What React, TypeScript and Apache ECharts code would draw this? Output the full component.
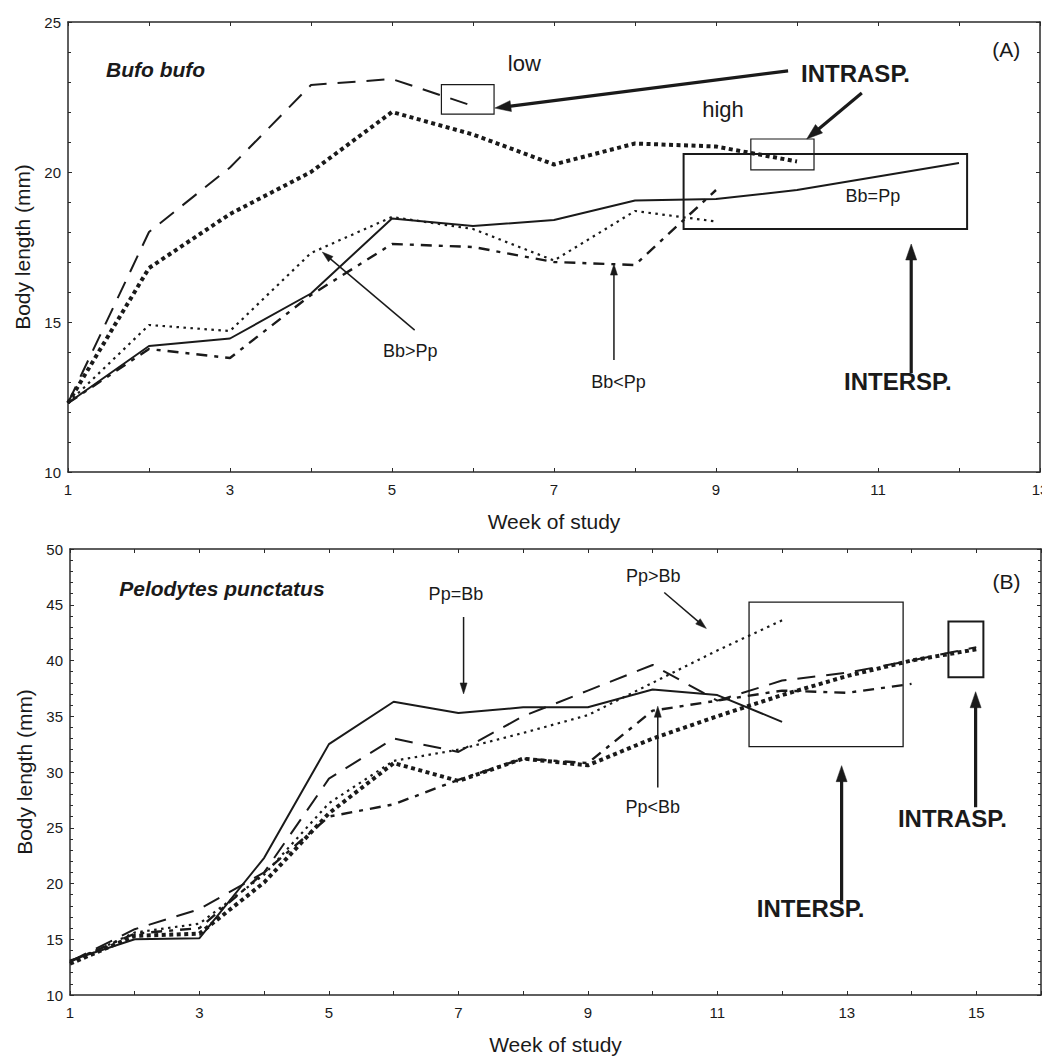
import React, { useEffect, useRef } from "react";
import * as echarts from "echarts";

// ---------- Data: (A) Bufo bufo ----------
const weeksA_long = [1, 2, 3, 4, 5, 6];
const bufoLongDash = [12.3, 18.0, 20.15, 22.9, 23.1, 22.2];
const weeksA_thick = [1, 2, 3, 4, 5, 6, 7, 8, 9, 10];
const bufoThickDot = [12.3, 16.8, 18.6, 20.0, 22.0, 21.25, 20.25, 20.95, 20.85, 20.35];
const weeksA_solid = [1, 2, 3, 4, 5, 6, 7, 8, 9, 10, 11, 12];
const bufoSolid = [12.3, 14.2, 14.45, 15.95, 18.45, 18.2, 18.4, 19.05, 19.1, 19.4, 19.85, 20.3];
const weeksA_fine = [1, 2, 3, 4, 5, 6, 7, 8, 9];
const bufoFineDot = [12.3, 14.9, 14.7, 17.3, 18.5, 18.1, 17.05, 18.7, 18.35];
const weeksA_dashdot = [1, 2, 3, 4, 5, 6, 7, 8, 9];
const bufoDashDot = [12.3, 14.1, 13.8, 15.9, 17.6, 17.5, 17.0, 16.9, 19.4];

// ---------- Data: (B) Pelodytes punctatus ----------
const weeksB_solid = [1, 2, 3, 4, 5, 6, 7, 8, 9, 10, 11, 12];
const peloSolid = [13.1, 15.0, 15.1, 22.3, 32.5, 36.3, 35.3, 35.8, 35.8, 37.4, 36.9, 34.5];
const weeksB_long = [1, 2, 3, 4, 5, 6, 7, 8, 9, 10, 11, 12, 13, 14, 15];
const peloLongDash = [13.0, 15.9, 17.7, 21.0, 29.4, 33.0, 31.8, 35.0, 37.3, 39.6, 36.4, 38.2, 38.9, 40.0, 41.2];
const weeksB_thick = [1, 2, 3, 4, 5, 6, 7, 8, 9, 10, 11, 12, 13, 14, 15];
const peloThickDot = [12.8, 15.3, 15.5, 20.1, 26.3, 30.8, 29.2, 31.2, 30.6, 33.0, 35.0, 36.9, 38.6, 40.0, 41.0];
const weeksB_fine = [1, 2, 3, 4, 5, 6, 7, 8, 9, 10, 11, 12];
const peloFineDot = [12.9, 15.6, 16.4, 20.8, 27.2, 31.0, 32.0, 33.5, 35.1, 38.0, 40.9, 43.6];
const weeksB_dashdot = [1, 2, 3, 4, 5, 6, 7, 8, 9, 10, 11, 12, 13, 14];
const peloDashDot = [13.0, 15.5, 16.0, 21.0, 26.0, 27.1, 29.3, 31.2, 30.8, 35.5, 36.4, 37.3, 37.1, 37.9];

// Axis ranges / labels
const xRangeA = [1, 13];
const xRangeB = [1, 16];
const yRangeA = [10, 25];
const yRangeB = [10, 50];
const axisTitleX = "Week of study";
const axisTitleY = "Body length (mm)";

// ---------- Annotations (in data coordinates of each panel) ----------
type Txt = { text: string; w: number; v: number; size: number; weight?: string; italic?: boolean };
type Box = { w0: number; w1: number; v0: number; v1: number; lw: number };
type Arr = { from: number[]; to: number[]; bold?: boolean };

const textsA: Txt[] = [
  { text: "Bufo bufo", w: 1.47, v: 23.43, size: 21, weight: "bold", italic: true },
  { text: "low", w: 6.43, v: 23.63, size: 22 },
  { text: "high", w: 8.83, v: 22.07, size: 22 },
  { text: "INTRASP.", w: 10.05, v: 23.3, size: 24, weight: "bold" },
  { text: "(A)", w: 12.41, v: 24.07, size: 21 },
  { text: "Bb=Pp", w: 10.6, v: 19.2, size: 18 },
  { text: "Bb>Pp", w: 4.89, v: 14.03, size: 18 },
  { text: "Bb<Pp", w: 7.46, v: 13.0, size: 18 },
  { text: "INTERSP.", w: 10.58, v: 13.03, size: 24, weight: "bold" },
];
const boxesA: Box[] = [
  { w0: 5.61, w1: 6.26, v0: 22.91, v1: 21.93, lw: 1.2 },
  { w0: 9.43, w1: 10.21, v0: 21.1, v1: 20.07, lw: 1.2 },
  { w0: 8.6, w1: 12.1, v0: 20.6, v1: 18.1, lw: 2 },
];
const arrowsA: Arr[] = [
  { from: [9.89, 23.37], to: [6.27, 22.13], bold: true },
  { from: [10.8, 22.63], to: [10.12, 21.1], bold: true },
  { from: [5.28, 14.73], to: [4.14, 17.33] },
  { from: [7.74, 13.73], to: [7.74, 16.93] },
  { from: [11.41, 13.3], to: [11.41, 17.6], bold: true },
];

const textsB: Txt[] = [
  { text: "Pelodytes punctatus", w: 1.76, v: 46.5, size: 21, weight: "bold", italic: true },
  { text: "Pp=Bb", w: 6.54, v: 46.0, size: 18 },
  { text: "Pp>Bb", w: 9.59, v: 47.57, size: 18 },
  { text: "(B)", w: 15.25, v: 47.1, size: 21 },
  { text: "Pp<Bb", w: 9.58, v: 26.84, size: 18 },
  { text: "INTERSP.", w: 11.61, v: 17.77, size: 24, weight: "bold" },
  { text: "INTRASP.", w: 13.79, v: 25.87, size: 24, weight: "bold" },
];
const boxesB: Box[] = [
  { w0: 11.49, w1: 13.87, v0: 45.24, v1: 32.28, lw: 1.3 },
  { w0: 14.57, w1: 15.11, v0: 43.5, v1: 38.5, lw: 2 },
];
const arrowsB: Arr[] = [
  { from: [7.08, 43.9], to: [7.08, 37.0] },
  { from: [10.18, 46.1], to: [10.83, 42.87] },
  { from: [10.08, 28.6], to: [10.08, 35.9] },
  { from: [12.92, 18.4], to: [12.92, 30.57], bold: true },
  { from: [14.99, 26.84], to: [14.99, 37.2], bold: true },
];

const FONT = '"Liberation Sans", Arial, Helvetica, sans-serif';
const INK = "#1a1a1a";
const FRAME = "#2a2a2a";

const styles = {
  solid: { color: INK, width: 2, type: "solid" as any },
  longDash: { color: INK, width: 2, type: [18, 11] as any },
  thickDot: { color: INK, width: 4, type: [4, 3.5] as any },
  fineDot: { color: INK, width: 2.2, type: [2.5, 4.5] as any },
  dashDot: { color: INK, width: 2.4, type: [11, 7, 4, 7] as any },
};

function xAxis(gridIndex: number, range: number[], position: string, labels: boolean, name?: string) {
  return {
    type: "value",
    gridIndex,
    position,
    min: range[0],
    max: range[1],
    interval: 1,
    name: name || "",
    nameLocation: "middle",
    nameGap: 39,
    nameTextStyle: { color: INK, fontSize: 21, fontFamily: FONT },
    axisLine: { show: true, onZero: false, lineStyle: { color: FRAME, width: 1.5 } },
    axisTick: { show: true, inside: true, length: 4, lineStyle: { color: FRAME, width: 1 } },
    axisLabel: {
      show: labels,
      margin: 10,
      color: INK,
      fontSize: 15,
      fontFamily: FONT,
      formatter: (v: number) => (Math.round(v) % 2 === 1 ? String(Math.round(v)) : ""),
    },
    splitLine: { show: false },
  };
}

function yAxis(gridIndex: number, range: number[], position: string, labels: boolean, name?: string) {
  return {
    type: "value",
    gridIndex,
    position,
    min: range[0],
    max: range[1],
    interval: 5,
    name: name || "",
    nameLocation: "middle",
    nameGap: 34,
    nameTextStyle: { color: INK, fontSize: 21, fontFamily: FONT },
    axisLine: { show: true, onZero: false, lineStyle: { color: FRAME, width: 1.5 } },
    axisTick: { show: true, inside: true, length: 4, lineStyle: { color: FRAME, width: 1 } },
    minorTick: { show: true, splitNumber: 5, length: 3, lineStyle: { color: FRAME, width: 1 } },
    axisLabel: { show: labels, margin: 7, color: INK, fontSize: 15, fontFamily: FONT },
    splitLine: { show: false },
  };
}

function line(name: string, weeks: number[], vals: number[], idx: number, style: any) {
  return {
    type: "line",
    name,
    xAxisIndex: idx,
    yAxisIndex: idx,
    data: weeks.map((w, i) => [w, vals[i]]),
    symbol: "none",
    lineStyle: style,
    silent: true,
    z: 3,
  };
}

function buildGraphics(chart: any, seriesIndex: number, texts: Txt[], boxes: Box[], arrows: Arr[]) {
  const p = (w: number, v: number) => chart.convertToPixel({ seriesIndex }, [w, v]) as number[];
  const out: any[] = [];
  boxes.forEach((b) => {
    const a = p(b.w0, b.v0);
    const c = p(b.w1, b.v1);
    out.push({
      type: "rect",
      z: 50,
      shape: { x: a[0], y: a[1], width: c[0] - a[0], height: c[1] - a[1] },
      style: { fill: "none", stroke: INK, lineWidth: b.lw },
    });
  });
  arrows.forEach((ar) => {
    const p0 = p(ar.from[0], ar.from[1]);
    const p1 = p(ar.to[0], ar.to[1]);
    const lw = ar.bold ? 3.2 : 1.5;
    const hl = ar.bold ? 16 : 11;
    const hw = ar.bold ? 11 : 7;
    const dx = p1[0] - p0[0];
    const dy = p1[1] - p0[1];
    const L = Math.hypot(dx, dy);
    const ux = dx / L;
    const uy = dy / L;
    const bx = p1[0] - ux * hl;
    const by = p1[1] - uy * hl;
    const nx = -uy;
    const ny = ux;
    out.push({
      type: "line",
      z: 50,
      shape: { x1: p0[0], y1: p0[1], x2: bx + ux * 2, y2: by + uy * 2 },
      style: { stroke: INK, lineWidth: lw },
    });
    out.push({
      type: "polygon",
      z: 50,
      shape: {
        points: [
          [p1[0], p1[1]],
          [bx + (nx * hw) / 2, by + (ny * hw) / 2],
          [bx - (nx * hw) / 2, by - (ny * hw) / 2],
        ],
      },
      style: { fill: INK, stroke: INK, lineWidth: 0.5 },
    });
  });
  texts.forEach((t) => {
    const a = p(t.w, t.v);
    out.push({
      type: "text",
      z: 60,
      x: a[0],
      y: a[1],
      style: {
        text: t.text,
        fill: INK,
        fontSize: t.size,
        fontFamily: FONT,
        fontWeight: t.weight || "normal",
        fontStyle: t.italic ? "italic" : "normal",
        align: "left",
        verticalAlign: "middle",
      },
    });
  });
  return out;
}

export default function App() {
  const ref = useRef<HTMLDivElement | null>(null);

  useEffect(() => {
    if (!ref.current) return;
    const chart = echarts.init(ref.current, null, { renderer: "svg" });
    const option: any = {
      animation: false,
      backgroundColor: "#ffffff",
      textStyle: { fontFamily: FONT },
      grid: [
        { left: 68, top: 22, width: 972, height: 450, show: false, containLabel: false, outerBoundsMode: "none" },
        { left: 70, top: 549, width: 971, height: 446, show: false, containLabel: false, outerBoundsMode: "none" },
      ],
      xAxis: [
        xAxis(0, xRangeA, "bottom", true, axisTitleX),
        xAxis(0, xRangeA, "top", false),
        xAxis(1, xRangeB, "bottom", true, axisTitleX),
        xAxis(1, xRangeB, "top", false),
      ],
      yAxis: [
        yAxis(0, yRangeA, "left", true, axisTitleY),
        yAxis(0, yRangeA, "right", false),
        yAxis(1, yRangeB, "left", true, axisTitleY),
        yAxis(1, yRangeB, "right", false),
      ],
      series: [
        line("Bb low density", weeksA_long, bufoLongDash, 0, styles.longDash),
        line("Bb high density", weeksA_thick, bufoThickDot, 0, styles.thickDot),
        line("Bb=Pp", weeksA_solid, bufoSolid, 0, styles.solid),
        line("Bb>Pp", weeksA_fine, bufoFineDot, 0, styles.fineDot),
        line("Bb<Pp", weeksA_dashdot, bufoDashDot, 0, styles.dashDot),
        line("Pp=Bb", weeksB_solid, peloSolid, 2, styles.solid),
        line("Pp low density", weeksB_long, peloLongDash, 2, styles.longDash),
        line("Pp high density", weeksB_thick, peloThickDot, 2, styles.thickDot),
        line("Pp>Bb", weeksB_fine, peloFineDot, 2, styles.fineDot),
        line("Pp<Bb", weeksB_dashdot, peloDashDot, 2, styles.dashDot),
      ],
    };
    chart.setOption(option);
    const graphics = [
      ...buildGraphics(chart, 0, textsA, boxesA, arrowsA),
      ...buildGraphics(chart, 5, textsB, boxesB, arrowsB),
    ];
    chart.setOption({ graphic: graphics });
    return () => chart.dispose();
  }, []);

  return (
    <div
      ref={ref}
      style={{ position: "absolute", left: 0, top: 0, width: 1042, height: 1060, background: "#fff" }}
    />
  );
}
